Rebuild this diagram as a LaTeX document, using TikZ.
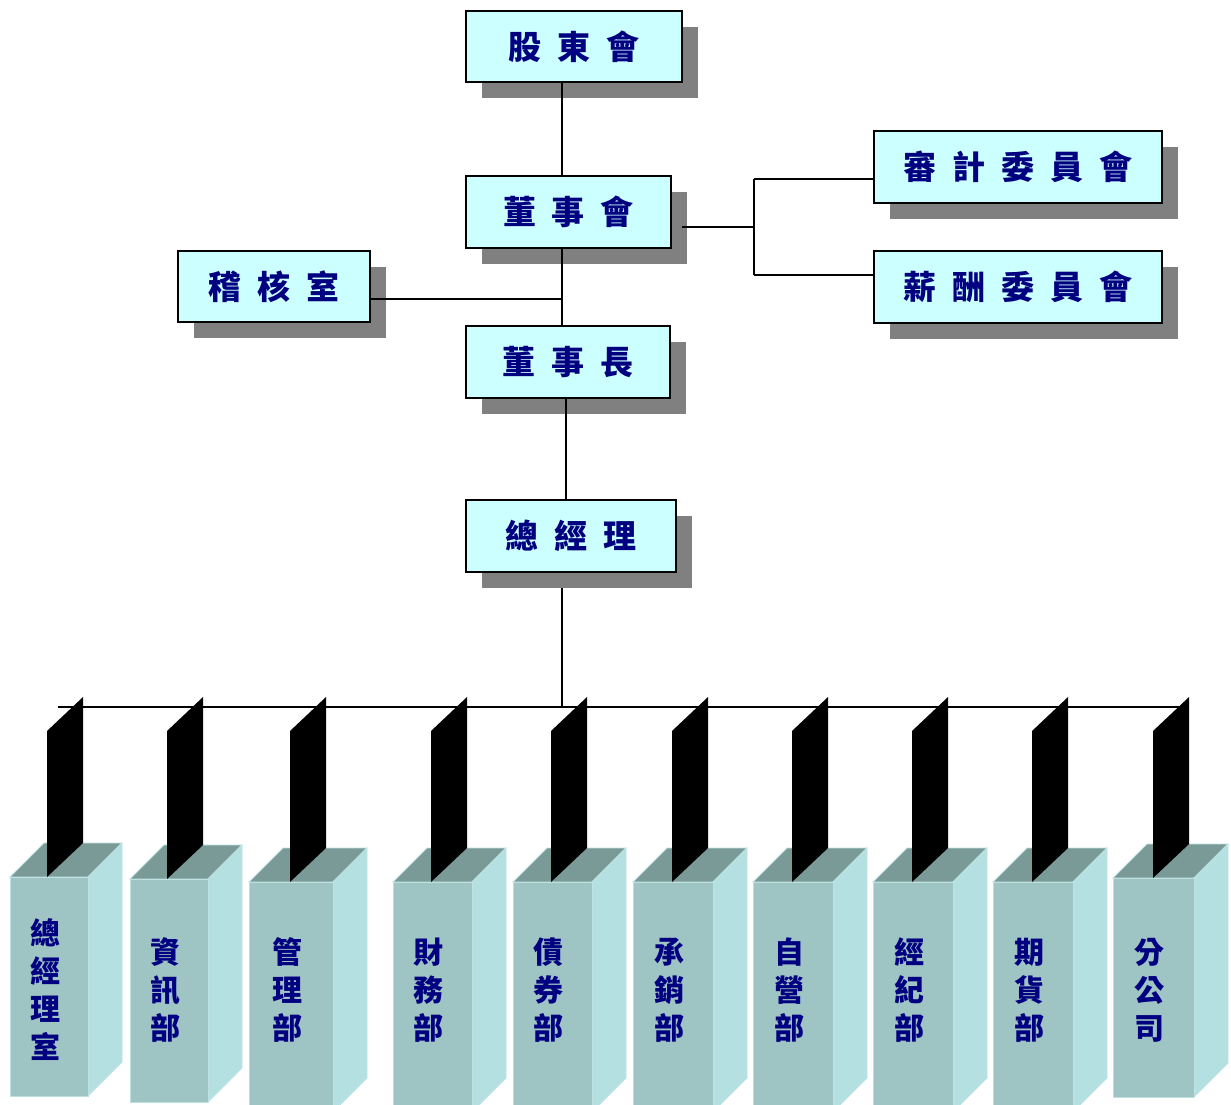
\documentclass[tikz,border=0pt]{standalone}
\usepackage{fontspec}
\newfontfamily\cjk{Noto Sans CJK TC}
\usetikzlibrary{shadows,calc}
\definecolor{boxfill}{RGB}{204,255,255}
\definecolor{navytext}{RGB}{0,0,128}
\definecolor{shadowgray}{RGB}{128,128,128}
\definecolor{frontface}{RGB}{158,196,196}
\definecolor{sideface}{RGB}{180,224,226}
\definecolor{topface}{RGB}{122,154,152}
\definecolor{faceedge}{RGB}{190,225,225}
\newcommand\gp{\hspace{16pt}}
\tikzset{
  orgbox/.style={draw=black, line width=1.6pt, fill=boxfill, inner sep=0pt,
    text=navytext, font=\cjk\bfseries\fontsize{33}{36}\selectfont,
    drop shadow={shadow xshift=16pt, shadow yshift=-16pt, opacity=1, fill=shadowgray}},
  link/.style={draw=black, line width=1.5pt},
  plate/.style={fill=black},
  fface/.style={fill=frontface, draw=faceedge, line width=0.8pt},
  sface/.style={fill=sideface, draw=faceedge, line width=0.8pt},
  tface/.style={fill=topface, draw=faceedge, line width=0.8pt},
  vlabel/.style={text=navytext, align=center, inner sep=0pt,
    font=\cjk\bfseries\fontsize{30}{38}\selectfont}
}
\begin{document}
\begin{tikzpicture}[x=1pt,y=-1pt]
\useasboundingbox (0,0) rectangle (1231,1104);
% top nodes
\node[orgbox, minimum width=216pt, minimum height=71pt] (gd) at (574,46.5) {股\gp 東\gp 會};
\node[orgbox, minimum width=205pt, minimum height=72pt] (bd) at (568.5,212) {董\gp 事\gp 會};
\node[orgbox, minimum width=192pt, minimum height=71pt] (audit) at (274,286.5) {稽\gp 核\gp 室};
\node[orgbox, minimum width=204pt, minimum height=72pt] (chair) at (568,362) {董\gp 事\gp 長};
\node[orgbox, minimum width=210pt, minimum height=72pt] (gm) at (571,536) {總\gp 經\gp 理};
\node[orgbox, minimum width=288pt, minimum height=72pt] (ac) at (1018,167) {審\gp 計\gp 委\gp 員\gp 會};
\node[orgbox, minimum width=288pt, minimum height=72pt] (rc) at (1018,287) {薪\gp 酬\gp 委\gp 員\gp 會};
% helper coordinates
\coordinate (spine) at (562,0);
\coordinate (spine2) at (566,0);
\coordinate (j1) at (562,299);
\coordinate (bdr) at (682,227);
\coordinate (fork) at (754,227);
\coordinate (forkt) at (754,179);
\coordinate (forkb) at (754,275);
\coordinate (gmb) at (562,588);
\coordinate (barmid) at (562,707);
\coordinate (barl) at (58,707);
\coordinate (barr) at (1187,707);
% connectors
\draw[link] (gd.south -| spine) -- (bd.north -| spine);
\draw[link] (bd.south -| spine) -- (chair.north -| spine);
\draw[link] (audit.east |- j1) -- (j1);
\draw[link] (bdr) -- (fork);
\draw[link] (forkt) -- (forkb);
\draw[link] (forkt) -- (ac.west |- forkt);
\draw[link] (forkb) -- (rc.west |- forkb);
\draw[link] (chair.south -| spine2) -- (gm.north -| spine2);
\draw[link] (gmb) -- (barmid);
\draw[link] (barl) -- (barr);
% bottom 3D boxes: left, right, top, bottom, plate-left, label
\foreach \l/\r/\t/\b/\p/\txt/\name in {
  10/88/877/1096/47/總\\經\\理\\室/d1,
  130/208/879/1102/167/資\\訊\\部/d2,
  249/333/882/1112/290/管\\理\\部/d3,
  393/472/882/1112/431/財\\務\\部/d4,
  513/592/882/1112/551/債\\券\\部/d5,
  633/713/882/1112/672/承\\銷\\部/d6,
  753/833/882/1112/792/自\\營\\部/d7,
  873/953/882/1112/912/經\\紀\\部/d8,
  993/1073/882/1112/1032/期\\貨\\部/d9,
  1113/1194/878/1097/1153/分\\公\\司/d10}{
  \path[tface] (\l,\t) -- (\l+34,\t-34) -- (\r+34,\t-34) -- (\r,\t) -- cycle;
  \path[sface] (\r,\t) -- (\r+34,\t-34) -- (\r+34,\b-34) -- (\r,\b) -- cycle;
  \path[fface] (\l,\t) rectangle (\r,\b);
  \path[plate] (\p,731) -- (\p+36,697) -- (\p+36,\t-34) -- (\p,\t) -- cycle;
  \node[vlabel] (\name) at ({(\l+\r)/2-4},990) {\txt};
}
\end{tikzpicture}
\end{document}
